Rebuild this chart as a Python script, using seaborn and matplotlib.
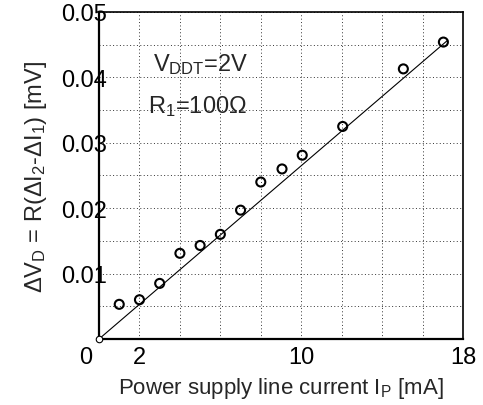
import numpy as np
import pandas as pd
import seaborn as sns
import matplotlib.pyplot as plt
import matplotlib.transforms as mtransforms

# measured points
current_ma = [1.0, 2.0, 3.0, 4.0, 5.0, 6.0, 7.0, 8.0, 9.05, 10.05, 12.05, 15.05, 17.03]
delta_v = [0.0053, 0.0060, 0.0085, 0.0131, 0.0143, 0.0160, 0.0197, 0.0240,
           0.0260, 0.0281, 0.0325, 0.0413, 0.0454]

# origin point and linear fit
origin_x = [0.0]
origin_y = [0.0]
fit_x = [0.0, 17.25]
fit_y = [0.0, 0.0457]

x_ticks = [0, 2, 4, 6, 8, 10, 12, 14, 16, 18]
x_labels = ["0", "2", "", "", "", "10", "", "", "", "18"]
y_ticks = [0, 0.005, 0.01, 0.015, 0.02, 0.025, 0.03, 0.035, 0.04, 0.045, 0.05]
y_labels = ["", "", "0.01", "", "0.02", "", "0.03", "", "0.04", "", "0.05"]

sns.set_style("white")
plt.rcParams['font.family'] = ['Liberation Sans', 'DejaVu Sans']
plt.rcParams['mathtext.fontset'] = 'custom'
plt.rcParams['mathtext.rm'] = 'Liberation Sans'
plt.rcParams['mathtext.it'] = 'Liberation Sans'

df = pd.DataFrame({'x': current_ma, 'y': delta_v})
fit = pd.DataFrame({'x': fit_x, 'y': fit_y})

fig = plt.figure(figsize=(4.83, 4.06), dpi=100)
ax = fig.add_axes([0.205, 0.1626, 0.7536, 0.8054])

sns.lineplot(data=fit, x='x', y='y', color='black', linewidth=0.8, ax=ax)
sns.scatterplot(data=df, x='x', y='y', marker='o', s=42, facecolor='none',
                edgecolor='black', linewidth=1.5, ax=ax)
ax.scatter(origin_x, origin_y, s=22, facecolor='white', edgecolor='black',
           linewidth=0.8, zorder=5, clip_on=False)

ax.set_xlim(0, 18)
ax.set_ylim(0, 0.05)
ax.set_xticks(x_ticks)
ax.set_xticklabels(x_labels)
ax.set_yticks(y_ticks)
ax.set_yticklabels(y_labels)
ax.tick_params(axis='both', which='both', length=0, labelsize=17, colors='black')
ax.tick_params(axis='y', pad=-6)
ax.tick_params(axis='x', pad=5)

# the "0" label sits a bit left of the axis corner
shift = mtransforms.ScaledTranslation(-0.13, 0, fig.dpi_scale_trans)
first = ax.get_xticklabels()[0]
first.set_transform(first.get_transform() + shift)

ax.grid(True, linestyle=(0, (1, 2.5)), color='black', linewidth=0.7, alpha=0.8)
for side in ['left', 'bottom']:
    ax.spines[side].set_linewidth(1.6)
for side in ['top', 'right']:
    ax.spines[side].set_linewidth(1.2)
for s in ax.spines.values():
    s.set_color('black')

ax.text(2.65, 0.0421, r'V$_{\rm DDT}$=2V', fontsize=17, va='center', ha='left')
ax.text(2.4, 0.0357, r'R$_1$=100$\Omega$', fontsize=17, va='center', ha='left')

ax.set_xlabel(r'Power supply line current I$_P$ [mA]', fontsize=16, labelpad=5)
ax.set_ylabel(r'$\Delta$V$_D$ = R($\Delta$I$_2$-$\Delta$I$_1$) [mV]', fontsize=17, labelpad=9)

plt.savefig("out.png", dpi=100, facecolor='white')
